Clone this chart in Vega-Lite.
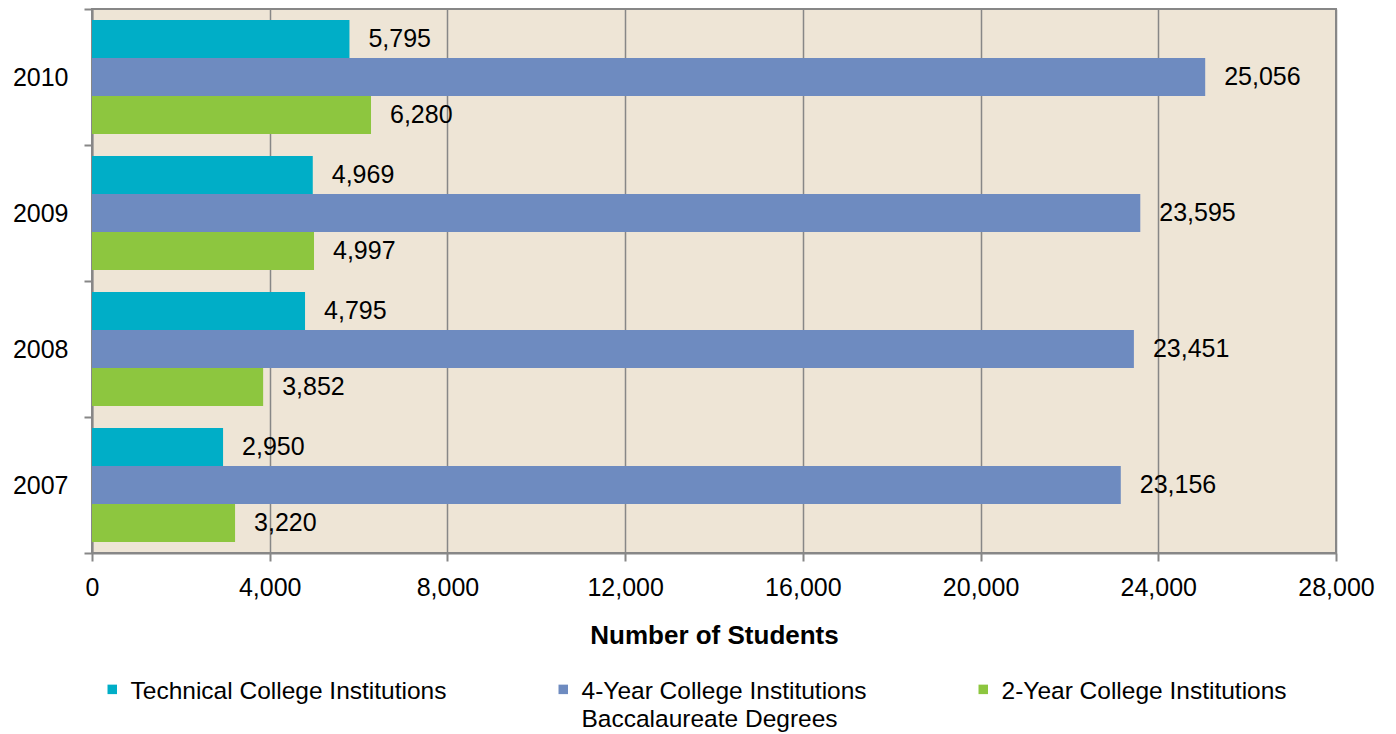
{
  "$schema": "https://vega.github.io/schema/vega-lite/v6.json",
  "width": 1244,
  "height": 544,
  "autosize": {"type": "none"},
  "padding": {"left": 92, "top": 9, "right": 60, "bottom": 181},
  "background": "#ffffff",
  "config": {
    "font": "Liberation Sans",
    "view": {"stroke": "#878787", "strokeWidth": 2, "fill": "#EEE5D6"}
  },
  "data": {
    "values": [
      {"year": "2010", "series": "Technical College Institutions", "ord": 1, "value": 5795},
      {"year": "2010", "series": "4-Year College Institutions", "ord": 2, "value": 25056},
      {"year": "2010", "series": "2-Year College Institutions", "ord": 3, "value": 6280},
      {"year": "2009", "series": "Technical College Institutions", "ord": 1, "value": 4969},
      {"year": "2009", "series": "4-Year College Institutions", "ord": 2, "value": 23595},
      {"year": "2009", "series": "2-Year College Institutions", "ord": 3, "value": 4997},
      {"year": "2008", "series": "Technical College Institutions", "ord": 1, "value": 4795},
      {"year": "2008", "series": "4-Year College Institutions", "ord": 2, "value": 23451},
      {"year": "2008", "series": "2-Year College Institutions", "ord": 3, "value": 3852},
      {"year": "2007", "series": "Technical College Institutions", "ord": 1, "value": 2950},
      {"year": "2007", "series": "4-Year College Institutions", "ord": 2, "value": 23156},
      {"year": "2007", "series": "2-Year College Institutions", "ord": 3, "value": 3220}
    ]
  },
  "encoding": {
    "y": {
      "field": "year",
      "type": "nominal",
      "sort": "descending",
      "scale": {"paddingInner": 0, "paddingOuter": 0},
      "axis": {
        "title": null,
        "tickBand": "extent",
        "grid": false,
        "domainColor": "#878787",
        "domainWidth": 2,
        "tickColor": "#878787",
        "tickWidth": 2,
        "tickSize": 8,
        "labelFontSize": 25,
        "labelColor": "#000000",
        "labelPadding": 16
      }
    },
    "yOffset": {
      "field": "series",
      "type": "nominal",
      "sort": ["Technical College Institutions", "4-Year College Institutions", "2-Year College Institutions"],
      "scale": {"paddingInner": 0, "paddingOuter": 0.29}
    },
    "x": {
      "field": "value",
      "type": "quantitative",
      "scale": {"domain": [0, 28000], "nice": false},
      "axis": {
        "title": "Number of Students",
        "titleFontSize": 26,
        "titleFontWeight": "bold",
        "titleColor": "#000000",
        "titlePadding": 22,
        "values": [0, 4000, 8000, 12000, 16000, 20000, 24000, 28000],
        "format": ",d",
        "labelFlush": false,
        "grid": true,
        "gridColor": "#878787",
        "gridWidth": 1.5,
        "domainColor": "#878787",
        "domainWidth": 2,
        "tickColor": "#878787",
        "tickWidth": 2,
        "tickSize": 8,
        "labelFontSize": 25,
        "labelColor": "#000000",
        "labelPadding": 14
      }
    }
  },
  "layer": [
    {
      "mark": {"type": "bar"},
      "encoding": {
        "color": {
          "field": "series",
          "type": "nominal",
          "sort": ["Technical College Institutions", "4-Year College Institutions", "2-Year College Institutions"],
          "scale": {
            "domain": ["Technical College Institutions", "4-Year College Institutions", "2-Year College Institutions"],
            "range": ["#00AEC7", "#6E8BC0", "#8DC63F"]
          },
          "legend": {
            "title": null,
            "orient": "none",
            "legendX": 8,
            "legendY": 668,
            "direction": "horizontal",
            "columns": 3,
            "columnPadding": 104,
            "symbolType": "square",
            "symbolSize": 90,
            "symbolStrokeWidth": 0,
            "labelFontSize": 24.5,
            "labelColor": "#000000",
            "labelLimit": 400,
            "labelOffset": 6,
            "labelBaseline": "middle",
            "labelExpr": "datum.label == '4-Year College Institutions' ? ['4-Year College Institutions', 'Baccalaureate Degrees'] : [datum.label, ' ']",
            "encode": {
              "labels": {"update": {"lineHeight": {"value": 28}, "dy": {"value": 3}}}
            }
          }
        }
      }
    },
    {
      "mark": {"type": "text", "align": "left", "baseline": "middle", "dx": 19, "fontSize": 25, "color": "#000000"},
      "encoding": {
        "text": {"field": "value", "type": "quantitative", "format": ","}
      }
    }
  ]
}
